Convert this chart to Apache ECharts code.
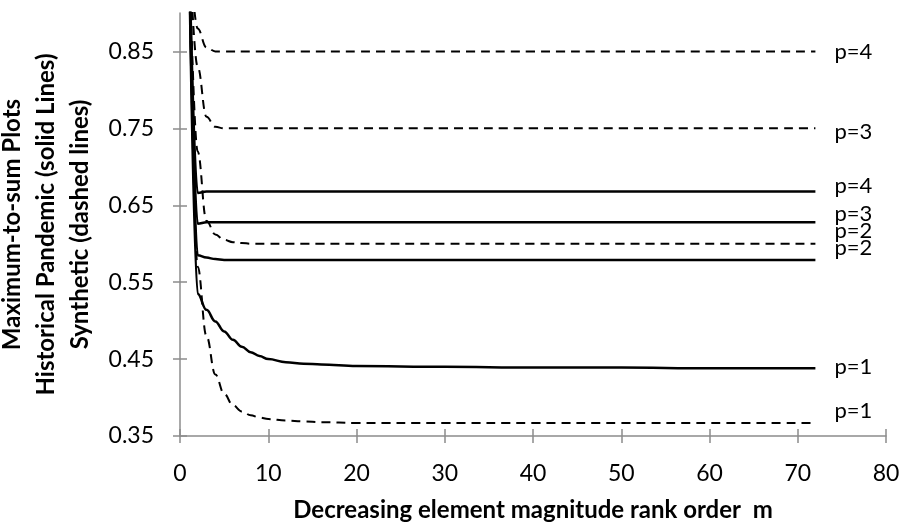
<!DOCTYPE html>
<html>
<head>
<meta charset="utf-8">
<script src="https://cdn.jsdelivr.net/npm/echarts@6/dist/echarts.min.js"></script>
<style>html,body{margin:0;padding:0;background:#fff;}#c{width:900px;height:525px;}</style>
</head>
<body>
<div id="c"></div>
<script>
// rank order m
const rankM = [1, 2, 3, 4, 5, 6, 7, 8, 9, 10, 12, 14, 16, 20, 30, 40, 50, 60, 72];
// Historical pandemic (solid lines)
const solidP1 = [1.0, 0.535, 0.514, 0.499, 0.486, 0.475, 0.466, 0.459, 0.454, 0.450, 0.446, 0.444, 0.443, 0.441, 0.440, 0.439, 0.439, 0.438, 0.438];
const solidP2 = [1.0, 0.585, 0.582, 0.580, 0.579, 0.579, 0.579, 0.579, 0.579, 0.579, 0.579, 0.579, 0.579, 0.579, 0.579, 0.579, 0.579, 0.579, 0.579];
const solidP3 = [1.0, 0.626, 0.628, 0.628, 0.628, 0.628, 0.628, 0.628, 0.628, 0.628, 0.628, 0.628, 0.628, 0.628, 0.628, 0.628, 0.628, 0.628, 0.628];
const solidP4 = [1.0, 0.666, 0.668, 0.668, 0.668, 0.668, 0.668, 0.668, 0.668, 0.668, 0.668, 0.668, 0.668, 0.668, 0.668, 0.668, 0.668, 0.668, 0.668];
// Synthetic (dashed lines)
const dashedP1 = [1.0, 0.57, 0.48, 0.43, 0.405, 0.390, 0.382, 0.377, 0.374, 0.372, 0.370, 0.369, 0.368, 0.367, 0.367, 0.367, 0.367, 0.367, 0.367];
const dashedP2 = [1.0, 0.72, 0.63, 0.612, 0.605, 0.602, 0.601, 0.600, 0.600, 0.600, 0.600, 0.600, 0.600, 0.600, 0.600, 0.600, 0.600, 0.600, 0.600];
const dashedP3 = [1.0, 0.83, 0.765, 0.752, 0.750, 0.750, 0.750, 0.750, 0.750, 0.750, 0.750, 0.750, 0.750, 0.750, 0.750, 0.750, 0.750, 0.750, 0.750];
const dashedP4 = [1.0, 0.88, 0.855, 0.850, 0.850, 0.850, 0.850, 0.850, 0.850, 0.850, 0.850, 0.850, 0.850, 0.850, 0.850, 0.850, 0.850, 0.850, 0.850];
// tick labels
const xTicks = [0, 10, 20, 30, 40, 50, 60, 70, 80];
const yTicks = [0.35, 0.45, 0.55, 0.65, 0.75, 0.85];

const FONT = 'Lato';
const chart = echarts.init(document.getElementById('c'), null, {renderer: 'canvas'});

function mk(name, vals, dashed, label, offY) {
  return {
    name: name, type: 'line', xAxisIndex: 0, yAxisIndex: 0,
    data: rankM.map((m, i) => [m, vals[i]]),
    showSymbol: false, symbol: 'none',
    smooth: 0.4, smoothMonotone: 'x',
    clip: true,
    lineStyle: {color: '#000', width: dashed ? 2 : 2.5, type: dashed ? [9, 6] : 'solid'},
    endLabel: {show: true, formatter: label, distance: 19, offset: [0, offY],
      color: '#000', fontFamily: FONT, fontSize: 22, lineHeight: 22},
    z: dashed ? 3 : 4
  };
}

const axisGray = '#8c8c8c';
const gridBox = {left: 180, right: 14, top: 13, bottom: 89, outerBoundsMode: 'none', containLabel: false};
const option = {
  animation: false,
  backgroundColor: '#fff',
  grid: [Object.assign({}, gridBox), Object.assign({}, gridBox)],
  xAxis: [
    {type: 'value', gridIndex: 0, min: 0, max: 80, interval: 10,
     name: 'Decreasing element magnitude rank order  m', nameLocation: 'middle', nameGap: 62,
     nameTextStyle: {fontFamily: FONT, fontWeight: 'bold', fontSize: 24, color: '#000'},
     axisLine: {lineStyle: {color: axisGray, width: 1.5}},
     axisTick: {show: true, inside: false, length: 7, lineStyle: {color: axisGray, width: 1.5}},
     axisLabel: {fontFamily: FONT, fontSize: 23, color: '#000', margin: 26,
       customValues: xTicks},
     splitLine: {show: false}},
    {type: 'value', gridIndex: 1, min: 0, max: 80, interval: 10,
     axisLine: {show: false},
     axisTick: {show: true, inside: true, length: 7, lineStyle: {color: axisGray, width: 1.5}},
     axisLabel: {show: false}, splitLine: {show: false}}
  ],
  yAxis: [
    {type: 'value', gridIndex: 0, min: 0.35, max: 0.9,
     name: 'Maximum-to-sum Plots\nHistorical Pandemic (solid Lines)\nSynthetic (dashed lines)',
     nameLocation: 'middle', nameRotate: 90, nameGap: 70,
     nameTextStyle: {fontFamily: FONT, fontWeight: 'bold', fontSize: 24, color: '#000', lineHeight: 34},
     axisLine: {show: true, lineStyle: {color: axisGray, width: 1.5}},
     axisTick: {show: true, inside: false, length: 7, customValues: yTicks, lineStyle: {color: axisGray, width: 1.5}},
     axisLabel: {fontFamily: FONT, fontSize: 23, color: '#000', margin: 26,
       customValues: yTicks, formatter: v => v.toFixed(2)},
     splitLine: {show: false}},
    {type: 'value', gridIndex: 1, min: 0.35, max: 0.9,
     axisLine: {show: false},
     axisTick: {show: true, inside: true, length: 7, customValues: yTicks, lineStyle: {color: axisGray, width: 1.5}},
     axisLabel: {show: false}, splitLine: {show: false}}
  ],
  series: [
    mk('dP4', dashedP4, true, 'p=4', 0),
    mk('dP3', dashedP3, true, 'p=3', 4),
    mk('dP2', dashedP2, true, 'p=2', -13),
    mk('dP1', dashedP1, true, 'p=1', -12),
    mk('sP4', solidP4, false, 'p=4', -6),
    mk('sP3', solidP3, false, 'p=3', -8),
    mk('sP2', solidP2, false, 'p=2', -12),
    mk('sP1', solidP1, false, 'p=1', -1)
  ]
};
chart.setOption(option);
</script>
</body>
</html>
